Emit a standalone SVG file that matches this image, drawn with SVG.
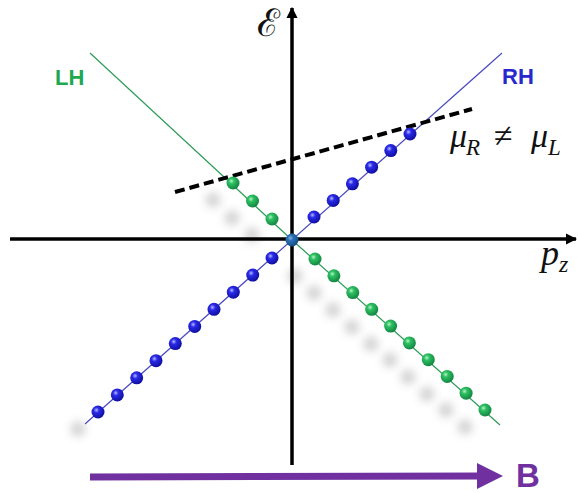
<svg xmlns="http://www.w3.org/2000/svg" width="578" height="493" viewBox="0 0 578 493">
<defs>
<radialGradient id="gb" cx="0.38" cy="0.35" r="0.7">
<stop offset="0" stop-color="#b8b8ff"/>
<stop offset="0.3" stop-color="#2a2ae8"/>
<stop offset="1" stop-color="#0c0c9a"/>
</radialGradient>
<radialGradient id="gg" cx="0.38" cy="0.35" r="0.7">
<stop offset="0" stop-color="#b8f0cc"/>
<stop offset="0.3" stop-color="#2cc060"/>
<stop offset="1" stop-color="#118040"/>
</radialGradient>
<radialGradient id="go" cx="0.38" cy="0.35" r="0.7">
<stop offset="0" stop-color="#8ab8e0"/>
<stop offset="0.3" stop-color="#2a70b8"/>
<stop offset="1" stop-color="#124a80"/>
</radialGradient>
<filter id="blur" x="-1" y="-1" width="3" height="3"><feGaussianBlur stdDeviation="4"/></filter>
<marker id="ah" viewBox="0 0 10 10" refX="9" refY="5" markerWidth="3.2" markerHeight="3.2" orient="auto" markerUnits="strokeWidth"><path d="M0,0 L10,5 L0,10 z" fill="#000"/></marker>
</defs>
<style>
.sh{fill:#c4c4c4;filter:url(#blur);opacity:0.75}
.b{fill:url(#gb)}
.g{fill:url(#gg)}
.ax{stroke:#000;stroke-width:3.5;fill:none}
.lbl{font-family:"Liberation Sans",Arial,sans-serif;font-weight:bold}
.m{font-family:"Liberation Serif","DejaVu Serif",serif;font-style:italic;fill:#111}
</style>
<g id="shadows">
<circle class="sh" cx="78" cy="429" r="7.5"/>
<circle class="sh" cx="213" cy="200" r="7.5"/>
<circle class="sh" cx="232" cy="218" r="7.5"/>
<circle class="sh" cx="252" cy="235" r="7.5"/>
<circle class="sh" cx="295" cy="276" r="7.5"/>
<circle class="sh" cx="314" cy="293" r="7.5"/>
<circle class="sh" cx="333" cy="310" r="7.5"/>
<circle class="sh" cx="352" cy="327" r="7.5"/>
<circle class="sh" cx="371" cy="344" r="7.5"/>
<circle class="sh" cx="390" cy="360" r="7.5"/>
<circle class="sh" cx="408" cy="377" r="7.5"/>
<circle class="sh" cx="427" cy="394" r="7.5"/>
<circle class="sh" cx="446" cy="410" r="7.5"/>
<circle class="sh" cx="465" cy="427" r="7.5"/>
</g>
<g id="connectors">
<line class="ax" x1="10" y1="239" x2="576" y2="239" marker-end="url(#ah)"/>
<line class="ax" x1="292" y1="465" x2="292" y2="8" marker-end="url(#ah)"/>
<polyline points="90,53 292,240 500,425" fill="none" stroke="#2e9c58" stroke-width="1.2"/>
<line x1="85" y1="424" x2="502" y2="53" stroke="#4848c0" stroke-width="1.2"/>
<line x1="175" y1="192" x2="472" y2="109" stroke="#000" stroke-width="4" stroke-dasharray="10,5"/>
<line x1="90" y1="477" x2="482" y2="476" stroke="#7030a0" stroke-width="7"/>
<path d="M477,463 L503,476 L477,489 z" fill="#7030a0"/>
</g>
<g id="blue-dots">
<circle class="b" cx="98" cy="412" r="6.5"/>
<circle class="b" cx="117.3" cy="394.9" r="6.5"/>
<circle class="b" cx="136.7" cy="377.8" r="6.5"/>
<circle class="b" cx="156" cy="360.7" r="6.5"/>
<circle class="b" cx="175.3" cy="343.6" r="6.5"/>
<circle class="b" cx="194.7" cy="326.4" r="6.5"/>
<circle class="b" cx="214" cy="309.3" r="6.5"/>
<circle class="b" cx="233.3" cy="292.2" r="6.5"/>
<circle class="b" cx="252.7" cy="275.1" r="6.5"/>
<circle class="b" cx="272" cy="258" r="6.5"/>
<circle class="b" cx="314" cy="217" r="6.5"/>
<circle class="b" cx="333.2" cy="200.4" r="6.5"/>
<circle class="b" cx="352.4" cy="183.8" r="6.5"/>
<circle class="b" cx="371.6" cy="167.2" r="6.5"/>
<circle class="b" cx="390.8" cy="150.6" r="6.5"/>
<circle class="b" cx="410" cy="134" r="6.5"/>
</g>
<g id="green-dots">
<circle class="g" cx="233" cy="183" r="6.5"/>
<circle class="g" cx="252.5" cy="201" r="6.5"/>
<circle class="g" cx="272" cy="219" r="6.5"/>
<circle class="g" cx="315" cy="259" r="6.5"/>
<circle class="g" cx="333.9" cy="275.8" r="6.5"/>
<circle class="g" cx="352.8" cy="292.6" r="6.5"/>
<circle class="g" cx="371.7" cy="309.3" r="6.5"/>
<circle class="g" cx="390.6" cy="326.1" r="6.5"/>
<circle class="g" cx="409.4" cy="342.9" r="6.5"/>
<circle class="g" cx="428.3" cy="359.7" r="6.5"/>
<circle class="g" cx="447.2" cy="376.4" r="6.5"/>
<circle class="g" cx="466.1" cy="393.2" r="6.5"/>
<circle class="g" cx="485" cy="410" r="6.5"/>
</g>
<g id="origin-dot"><circle cx="292" cy="240" r="6.5" fill="url(#go)"/></g>
<g id="labels">
<text class="lbl" x="55" y="85" font-size="22" fill="#1fa850">LH</text>
<text class="lbl" x="502" y="84" font-size="22" fill="#2828cc">RH</text>
<text class="lbl" x="516" y="487" font-size="33" fill="#7030a0">B</text>
<text x="257" y="36" font-size="38" font-family="DejaVu Serif,serif" fill="#111">ℰ</text>
<text class="m" x="541" y="265" font-size="36">p<tspan font-size="24" dy="7">z</tspan></text>
<text class="m" font-size="34"><tspan x="450" y="147">μ</tspan><tspan x="466" y="155" font-size="23">R</tspan><tspan x="494" y="147" font-style="normal">≠</tspan><tspan x="531" y="147">μ</tspan><tspan x="548" y="155" font-size="23">L</tspan></text>
</g>
</svg>
